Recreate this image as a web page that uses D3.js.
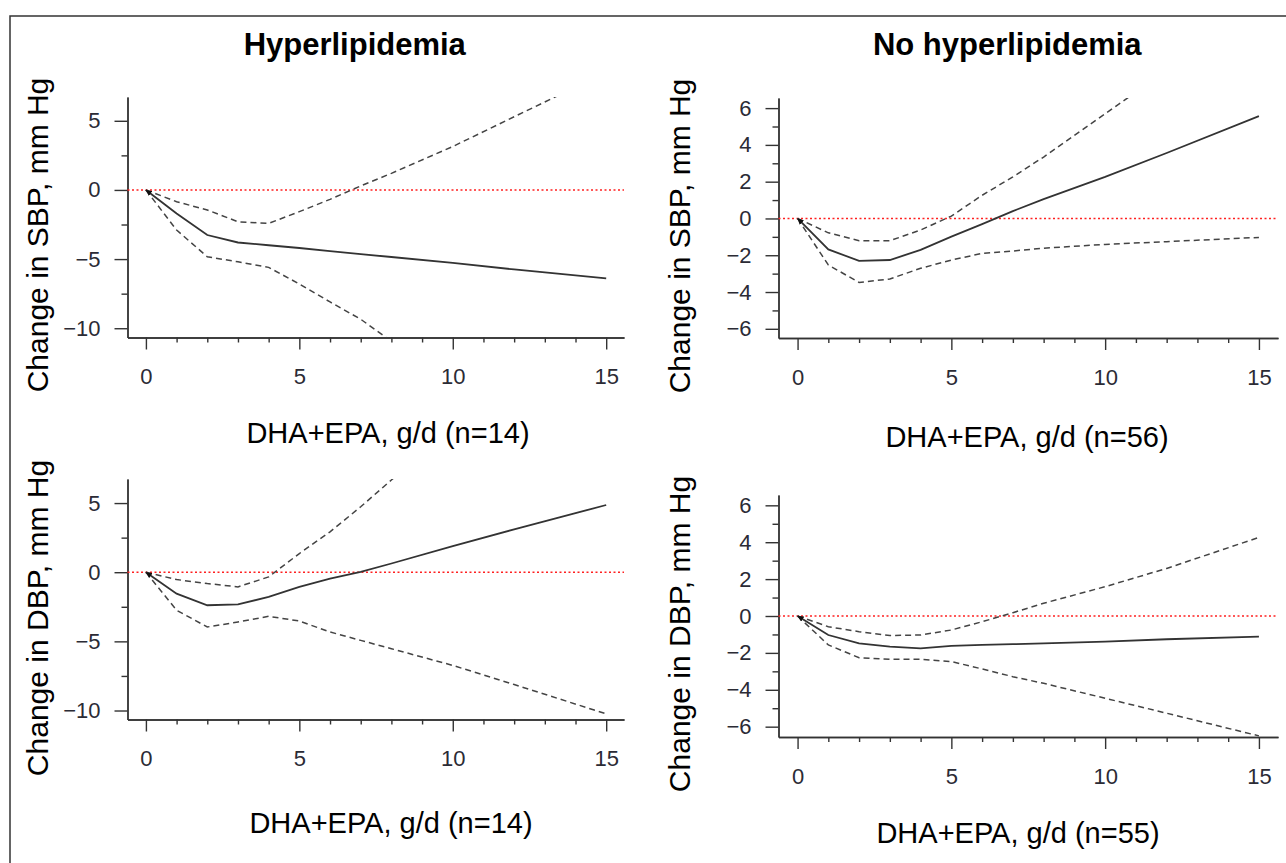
<!DOCTYPE html>
<html>
<head>
<meta charset="utf-8">
<script src="https://cdn.jsdelivr.net/npm/d3@7"></script>
<style>
  body { margin: 0; background: #fff; }
  svg { display: block; font-family: "Liberation Sans", Arial, sans-serif; }
</style>
</head>
<body>
<div id="chart"></div>
<script>
// dose grid (g/d of DHA+EPA) shared by every curve
const dose = [0, 1, 2, 3, 4, 5, 6, 7, 8, 10, 12, 15];

// Hyperlipidemia, SBP
const hypSbpEst = [0, -1.7, -3.26, -3.8, -4.0, -4.2, -4.42, -4.64, -4.85, -5.27, -5.75, -6.4];
const hypSbpLo  = [0, -2.9, -4.83, -5.2, -5.6, -6.8, -8.1, -9.35, -10.95, null, null, null];
const hypSbpHi  = [0, -0.85, -1.45, -2.3, -2.42, -1.57, -0.68, 0.29, 1.2, 3.14, 5.29, 8.5];

// No hyperlipidemia, SBP
const noSbpEst = [0, -1.68, -2.31, -2.26, -1.71, -0.99, -0.31, 0.4, 1.05, 2.26, 3.56, 5.56];
const noSbpLo  = [0, -2.53, -3.48, -3.29, -2.71, -2.26, -1.9, -1.77, -1.62, -1.41, -1.26, -1.03];
const noSbpHi  = [0, -0.78, -1.21, -1.21, -0.63, 0.13, 1.26, 2.26, 3.34, 5.69, 8.05, null];

// Hyperlipidemia, DBP
const hypDbpEst = [0, -1.55, -2.39, -2.32, -1.79, -1.06, -0.46, 0.02, 0.63, 1.88, 3.1, 4.86];
const hypDbpLo  = [0, -2.75, -3.96, -3.6, -3.19, -3.53, -4.32, -4.93, -5.53, -6.74, -8.12, -10.24];
const hypDbpHi  = [0, -0.53, -0.82, -1.06, -0.34, 1.35, 2.92, 4.73, 6.67, 10.5, null, null];

// No hyperlipidemia, DBP
const noDbpEst = [0, -1.03, -1.48, -1.66, -1.75, -1.62, -1.57, -1.53, -1.48, -1.39, -1.26, -1.12];
const noDbpLo  = [0, -1.57, -2.26, -2.35, -2.35, -2.47, -2.87, -3.29, -3.65, -4.46, -5.27, -6.5];
const noDbpHi  = [0, -0.58, -0.85, -1.06, -1.03, -0.76, -0.31, 0.18, 0.69, 1.59, 2.58, 4.26];

const titles = ["Hyperlipidemia", "No hyperlipidemia"];
const yLabels = ["Change in SBP, mm Hg", "Change in SBP, mm Hg", "Change in DBP, mm Hg", "Change in DBP, mm Hg"];
const xLabels = ["DHA+EPA, g/d (n=14)", "DHA+EPA, g/d (n=56)", "DHA+EPA, g/d (n=14)", "DHA+EPA, g/d (n=55)"];
const xMajor = [0, 5, 10, 15];
const xMinor = [1, 2, 3, 4, 6, 7, 8, 9, 11, 12, 13, 14];
const yMajorWide = [-10, -5, 0, 5];
const yMinorWide = [-7.5, -2.5, 2.5];
const yMajorNarrow = [-6, -4, -2, 0, 2, 4, 6];
const yMinorNarrow = [-5, -3, -1, 1, 3, 5];

const W = 1286, H = 863;
const font = '"Liberation Sans", Arial, sans-serif';

// panel boxes (pixels) + which series go in each
const panels = [
  {x0: 127.5, x1: 624, y0: 97, y1: 337.5, xd: [-0.6, 15.58], yd: [-10.67, 6.72],
   yMaj: yMajorWide, yMin: yMinorWide, est: hypSbpEst, lo: hypSbpLo, hi: hypSbpHi,
   yl: yLabels[0], xl: xLabels[0], xlX: 388, xlY: 443, ylX: 47.5, ylY: 235},
  {x0: 778.5, x1: 1278, y0: 98, y1: 338, xd: [-0.62, 15.62], yd: [-6.5, 6.55],
   yMaj: yMajorNarrow, yMin: yMinorNarrow, est: noSbpEst, lo: noSbpLo, hi: noSbpHi,
   yl: yLabels[1], xl: xLabels[1], xlX: 1027, xlY: 447, ylX: 690, ylY: 236},
  {x0: 127.5, x1: 624, y0: 479, y1: 719.5, xd: [-0.6, 15.58], yd: [-10.65, 6.74],
   yMaj: yMajorWide, yMin: yMinorWide, est: hypDbpEst, lo: hypDbpLo, hi: hypDbpHi,
   yl: yLabels[2], xl: xLabels[2], xlX: 391, xlY: 833, ylX: 47.5, ylY: 618},
  {x0: 778.5, x1: 1278, y0: 495, y1: 737, xd: [-0.62, 15.62], yd: [-6.56, 6.56],
   yMaj: yMajorNarrow, yMin: yMinorNarrow, est: noDbpEst, lo: noDbpLo, hi: noDbpHi,
   yl: yLabels[3], xl: xLabels[3], xlX: 1018, xlY: 843, ylX: 690, ylY: 634}
];

const svg = d3.select("#chart").append("svg").attr("width", W).attr("height", H);
svg.append("rect").attr("width", W).attr("height", H).attr("fill", "#fff");

// frame running off the right and bottom edges
svg.append("rect").attr("x", 10).attr("y", 16).attr("width", 1400).attr("height", 1000)
  .attr("fill", "none").attr("stroke", "#333").attr("stroke-width", 1.5);

const defs = svg.append("defs");
defs.append("marker").attr("id", "arrow")
  .attr("viewBox", "0 0 6 6").attr("refX", 0).attr("refY", 3)
  .attr("markerWidth", 6).attr("markerHeight", 6).attr("markerUnits", "userSpaceOnUse")
  .attr("orient", "auto")
  .append("path").attr("d", "M0,3 L6,0 L6,6 Z").attr("fill", "#111");

// panel titles
svg.selectAll("text.title").data(titles).enter().append("text")
  .attr("class", "title")
  .attr("x", (d, i) => (panels[i].x0 + panels[i].x1) / 2 - 21)
  .attr("y", 55)
  .attr("text-anchor", "middle")
  .style("font-family", font).style("font-size", "31px").style("font-weight", "bold")
  .attr("fill", "#000")
  .text(d => d);

panels.forEach(function(p, i) {
  const x = d3.scaleLinear().domain(p.xd).range([p.x0, p.x1]);
  const y = d3.scaleLinear().domain(p.yd).range([p.y1, p.y0]);
  const g = svg.append("g");

  defs.append("clipPath").attr("id", "clip" + i)
    .append("rect").attr("x", p.x0).attr("y", p.y0)
    .attr("width", p.x1 - p.x0).attr("height", p.y1 - p.y0);

  // x axis: minor then major ticks
  g.append("g").attr("transform", "translate(0," + p.y1 + ")")
    .call(d3.axisBottom(x).tickValues(xMinor).tickSize(5).tickSizeOuter(0).tickFormat(""));
  g.append("g").attr("transform", "translate(0," + p.y1 + ")")
    .call(d3.axisBottom(x).tickValues(xMajor).tickSize(12).tickSizeOuter(0).tickPadding(19));

  // y axis
  g.append("g").attr("transform", "translate(" + p.x0 + ",0)")
    .call(d3.axisLeft(y).tickValues(p.yMin).tickSize(6).tickSizeOuter(0).tickFormat(""));
  g.append("g").attr("transform", "translate(" + p.x0 + ",0)")
    .call(d3.axisLeft(y).tickValues(p.yMaj).tickSize(13).tickSizeOuter(0).tickPadding(14));

  g.selectAll(".domain, .tick line").attr("stroke", "#333").attr("stroke-width", 1.4);
  g.selectAll(".tick text").style("font-family", font).style("font-size", "22px").attr("fill", "#2b2b35");

  // reference line at zero
  g.append("line")
    .attr("x1", p.x0).attr("x2", p.x1)
    .attr("y1", y(0)).attr("y2", y(0))
    .attr("stroke", "#ff2020").attr("stroke-width", 1.6).attr("stroke-dasharray", "2,2.5");

  const line = d3.line()
    .defined(d => d[1] !== null)
    .x(d => x(d[0])).y(d => y(d[1]));

  const plot = g.append("g").attr("clip-path", "url(#clip" + i + ")");
  [p.lo, p.hi].forEach(function(s) {
    plot.append("path")
      .attr("d", line(dose.map((v, k) => [v, s[k]])))
      .attr("fill", "none").attr("stroke", "#444").attr("stroke-width", 1.5)
      .attr("stroke-dasharray", "6,4");
  });
  plot.append("path")
    .attr("d", line(dose.map((v, k) => [v, p.est[k]])))
    .attr("fill", "none").attr("stroke", "#333").attr("stroke-width", 1.8)
    .attr("marker-start", "url(#arrow)");

  // axis titles
  g.append("text")
    .attr("x", p.xlX).attr("y", p.xlY)
    .attr("text-anchor", "middle")
    .style("font-family", font).style("font-size", "29px")
    .attr("fill", "#000")
    .text(p.xl);
  g.append("text")
    .attr("transform", "translate(" + p.ylX + "," + p.ylY + ") rotate(-90)")
    .attr("text-anchor", "middle")
    .style("font-family", font).style("font-size", "30px")
    .attr("fill", "#000")
    .text(p.yl);
});
</script>
</body>
</html>
